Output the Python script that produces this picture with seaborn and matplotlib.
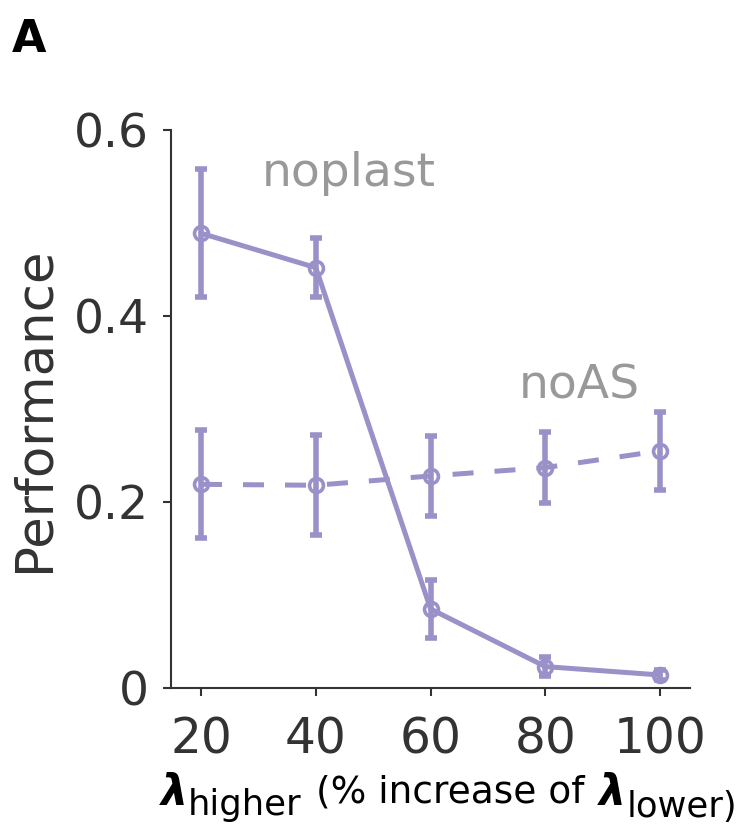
import matplotlib
matplotlib.use('Agg')
import numpy as np
import pandas as pd
import seaborn as sns
import matplotlib.pyplot as plt

# ---- data ----
lam_pct = [20, 40, 60, 80, 100]
noplast_mean = [0.489, 0.452, 0.085, 0.023, 0.014]
noplast_err = [0.069, 0.032, 0.031, 0.010, 0.005]
noAS_mean = [0.219, 0.218, 0.228, 0.237, 0.255]
noAS_err = [0.058, 0.054, 0.043, 0.038, 0.042]
xticks = [20, 40, 60, 80, 100]
xtick_labels = ['20', '40', '60', '80', '100']
yticks = [0, 0.2, 0.4, 0.6]
ytick_labels = ['0', '0.2', '0.4', '0.6']

sns.set_theme(style='ticks')
plt.rcParams['font.family'] = ['DejaVu Sans']

W, H = 741, 826
fig = plt.figure(figsize=(W / 100, H / 100), dpi=100)
ax = fig.add_axes([171 / W, 1 - 688 / H, (690 - 171) / W, (688 - 130) / H])

color = '#9a91c9'
dark = '#333333'
grey = '#999999'

df = pd.DataFrame({'lam': lam_pct, 'noplast': noplast_mean, 'noAS': noAS_mean})

sns.lineplot(data=df, x='lam', y='noplast', ax=ax, color=color, lw=3.6,
             marker='o', ms=10, mfc='none', mec=color, mew=2.6)
sns.lineplot(data=df, x='lam', y='noAS', ax=ax, color=color, lw=3.6,
             linestyle=(0, (4.2, 4.2)),
             marker='o', ms=10, mfc='none', mec=color, mew=2.6)
ax.errorbar(lam_pct, noplast_mean, yerr=noplast_err, fmt='none', ecolor=color,
            elinewidth=4, capsize=4.5, capthick=4)
ax.errorbar(lam_pct, noAS_mean, yerr=noAS_err, fmt='none', ecolor=color,
            elinewidth=4, capsize=4.5, capthick=4)

ax.set_xlim(14.77, 105.2)
ax.set_ylim(0, 0.6)
ax.set_xticks(xticks)
ax.set_xticklabels(xtick_labels)
ax.set_yticks(yticks)
ax.set_yticklabels(ytick_labels)
ax.tick_params(axis='x', labelsize=35, length=6, width=1.5, pad=14, colors=dark)
ax.tick_params(axis='y', labelsize=34, length=6, width=1.5, pad=10, colors=dark)
for s in ['left', 'bottom']:
    ax.spines[s].set_linewidth(1.5)
    ax.spines[s].set_color(dark)
sns.despine(ax=ax)

ax.set_xlabel('')
ax.set_ylabel('Performance', fontsize=37, color=dark, labelpad=10)

ax.text(45.8, 0.540, 'noplast', color=grey, fontsize=34, ha='center', va='baseline')
ax.text(85.9, 0.311, 'noAS', color=grey, fontsize=34, ha='center', va='baseline')

# panel label
fig.text(12 / W, 1 - 52 / H, 'A', fontsize=32, fontweight='bold', color='black',
         ha='left', va='baseline')

# x label pieces
def ftxt(x, y, s, **kw):
    fig.text(x / W, 1 - y / H, s, ha='left', va='baseline', color='black', **kw)

ftxt(161, 805, 'λ', fontsize=31, fontweight='bold', fontstyle='italic')
ftxt(188, 815, 'higher', fontsize=25.5)
ftxt(316, 802, '(% increase of', fontsize=27)
ftxt(599, 805, 'λ', fontsize=31, fontweight='bold', fontstyle='italic')
ftxt(627, 817, 'lower)', fontsize=25.5)

fig.savefig('out.png', dpi=100)
